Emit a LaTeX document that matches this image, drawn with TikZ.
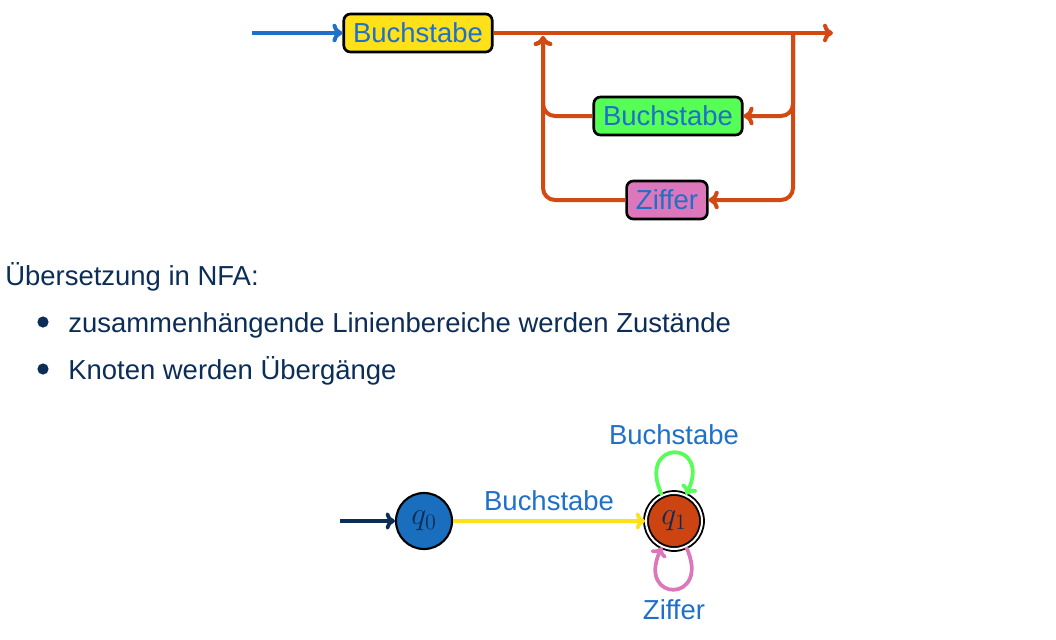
\documentclass[tikz,border=0pt]{standalone}
\usepackage{fontspec}
\setmainfont{Liberation Sans}
\usetikzlibrary{arrows.meta}

\definecolor{railred}{RGB}{210,74,18}
\definecolor{boxyellow}{RGB}{255,225,25}
\definecolor{boxgreen}{RGB}{85,255,85}
\definecolor{boxpink}{RGB}{221,119,187}
\definecolor{labelblue}{RGB}{30,112,200}
\definecolor{textnavy}{RGB}{12,45,85}
\definecolor{stateblue}{RGB}{26,110,190}
\definecolor{statered}{RGB}{204,68,17}

\tikzset{
  rail/.style={line width=3pt,draw=railred,rounded corners=9pt},
  railbox/.style={draw=black,line width=2pt,rounded corners=5pt,text=labelblue,
    minimum height=28.5pt,inner xsep=7pt,inner ysep=0pt},
  st/.style={circle,draw=black,line width=1.6pt,minimum size=42pt,inner sep=0pt,text=textnavy},
  txt/.style={anchor=base west,inner sep=0pt,text=textnavy},
  trans/.style={line width=2.8pt},
  tip/.style={-{Computer Modern Rightarrow[length=7.5pt,width=14pt]}},
  smalltip/.style={-{Computer Modern Rightarrow[length=7pt,width=13pt]}}
}

\begin{document}
\begin{tikzpicture}[x=0.75pt,y=-0.75pt,font=\fontsize{20.6}{24}\selectfont]
\useasboundingbox (0,0) rectangle (1056,639);
% syntax diagram
\node[railbox,fill=boxyellow] (b1) at (418,33) {Buchstabe};
\node[railbox,fill=boxgreen] (b2) at (668,116) {Buchstabe};
\node[railbox,fill=boxpink] (zf) at (667,200) {Ziffer};
\coordinate (in) at (252,33);\coordinate (out) at (833,33);
\coordinate (split) at (793,33);\coordinate (join) at (543,36);
\draw[tip,line width=3pt,draw=labelblue] (in)--(b1);
\draw[rail,tip] (b1)--(out);
\draw[rail,tip] (split)|-(b2);\draw[rail,tip] (split)|-(zf);
\draw[rail,tip] (b2)-|(join);\draw[rail,tip] (zf)-|(join);
% text
\node[txt] (title) at (5,285) {Übersetzung in NFA:};
\fill[textnavy] (43,322) circle(4.2pt);\node[txt] (item1) at (68,332) {zusammenhängende Linienbereiche werden Zustände};
\fill[textnavy] (43,369) circle(4.2pt);\node[txt] (item2) at (68,379) {Knoten werden Übergänge};
% NFA
\node[st,fill=stateblue] (q0) at (424,521) {\scalebox{1.15}{$q_0$}};
\node[st,fill=statered,double,double distance=1.5pt,line width=1.4pt] (q1) at (674,521) {\scalebox{1.15}{$q_1$}};
\coordinate (init) at (340,521);
\draw[trans,smalltip,draw=textnavy] (init)--(q0);
\draw[trans,smalltip,draw=boxyellow] (q0)--node[above=3pt,text=labelblue] (l01) {Buchstabe} (q1);
\draw[trans,smalltip,draw=boxgreen] (q1) to[out=115,in=65,looseness=6.5] node[above=1.5pt,text=labelblue] (l11) {Buchstabe} (q1);
\draw[trans,smalltip,draw=boxpink] (q1) to[out=295,in=245,looseness=6.5] node[below=3pt,text=labelblue] (l12) {Ziffer} (q1);
\end{tikzpicture}
\end{document}
